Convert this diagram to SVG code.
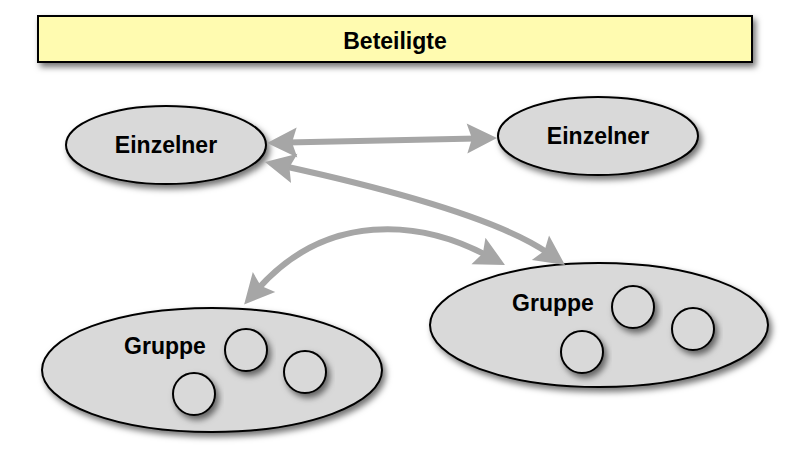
<svg xmlns="http://www.w3.org/2000/svg" width="794" height="450" viewBox="0 0 794 450">
<defs>
<filter id="sh" x="-20%" y="-20%" width="140%" height="150%">
<feDropShadow dx="3" dy="4" stdDeviation="3" flood-color="#000" flood-opacity="0.55"/>
</filter>
<marker id="ah" markerUnits="userSpaceOnUse" orient="auto-start-reverse" refX="0" refY="0" markerWidth="40" markerHeight="40" overflow="visible">
<path d="M20,0 L-10,-15 L-5,0 L-10,15 Z" fill="#a6a6a6"/>
</marker>
</defs>
<style>
.node{fill:#d9d9d9;stroke:#000;stroke-width:2;filter:url(#sh)}
.lbl{font-family:"Liberation Sans",Arial,sans-serif;font-weight:bold;font-size:23px;fill:#000;text-anchor:middle}
.conn{fill:none;stroke:#a6a6a6;stroke-width:6;marker-start:url(#ah);marker-end:url(#ah)}
</style>
<rect width="794" height="450" fill="#fff"/>
<g id="title">
<rect x="38" y="16" width="714" height="46" fill="#fffbb0" stroke="#000" stroke-width="2" filter="url(#sh)"/>
<text class="lbl" x="395" y="49">Beteiligte</text>
</g>
<g id="einzelner1">
<ellipse class="node" cx="166" cy="145" rx="100" ry="39"/>
<text class="lbl" x="166" y="153">Einzelner</text>
</g>
<g id="einzelner2">
<ellipse class="node" cx="598" cy="136" rx="100" ry="39"/>
<text class="lbl" x="598" y="144">Einzelner</text>
</g>
<g id="gruppe1">
<ellipse class="node" cx="212" cy="370" rx="170" ry="62"/>
<text class="lbl" x="165" y="354">Gruppe</text>
<circle class="node" cx="246" cy="350" r="21"/>
<circle class="node" cx="305" cy="372" r="21"/>
<circle class="node" cx="194" cy="394" r="21"/>
</g>
<g id="gruppe2">
<ellipse class="node" cx="599" cy="325" rx="169" ry="62"/>
<text class="lbl" x="553" y="311">Gruppe</text>
<circle class="node" cx="633" cy="307" r="21"/>
<circle class="node" cx="693" cy="329" r="21"/>
<circle class="node" cx="582" cy="352" r="21"/>
</g>
<g id="connectors">
<path class="conn" d="M287,142.6 L477,138.4"/>
<path class="conn" d="M284.5,166.3 Q488,211 548.6,253.5"/>
<path class="conn" d="M257.4,289.5 C327,211 420,220 487.3,255.6"/>
</g>
</svg>
